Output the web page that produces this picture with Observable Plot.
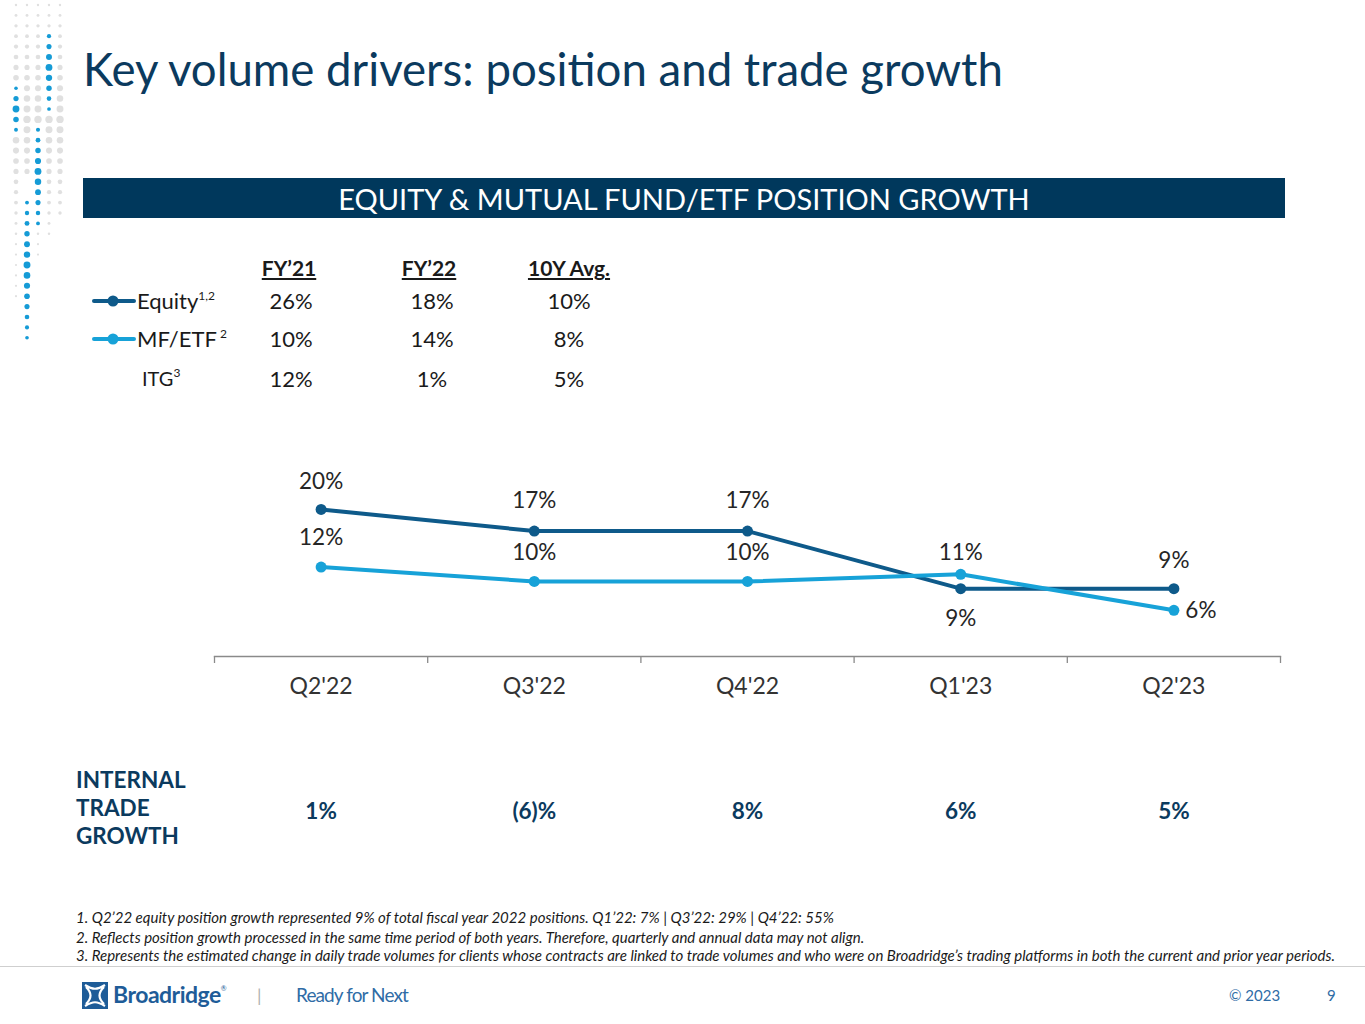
<!DOCTYPE html>
<html>
<head>
<meta charset="utf-8">
<script src="https://cdn.jsdelivr.net/npm/d3@7"></script>
<script src="https://cdn.jsdelivr.net/npm/@observablehq/plot@0.6"></script>
<style>
  html, body { margin: 0; padding: 0; background: #fff; }
  body { width: 1365px; height: 1024px; position: relative; overflow: hidden; font-family: Lato, "Open Sans", sans-serif; }
  .abs { position: absolute; white-space: nowrap; }
  #title { left: 83px; top: 41px; font-size: 45.6px; color: #0B3A5E; }
  #banner { left: 83px; top: 178px; width: 1202px; height: 40px; background: #00385C; color: #fff; font-size: 29px; line-height: 42px; text-align: center; }
  .hdr { font-weight: bold; font-size: 21px; text-decoration: underline; color: #1a1a1a; transform: translateX(-50%); }
  .val { font-size: 22px; color: #1a1a1a; transform: translateX(-50%); }
  .lbl { font-size: 22px; color: #1a1a1a; }
  sup { font-size: 12px; vertical-align: 9px; }
  #itgHead { left: 76px; top: 766px; font-weight: bold; font-size: 22.5px; line-height: 28px; color: #0B3A5E; white-space: normal; }
  .note { left: 76px; font-size: 15px; font-style: italic; color: #1a1a1a; }
  #sep { left: 0; top: 966px; width: 1365px; height: 1px; background: #cfcfcf; }
  #chart { left: 0; top: 440px; }
</style>
</head>
<body>
<svg id="dots" class="abs" style="left:0;top:0" width="75" height="350"></svg>
<div id="title" class="abs">Key volume drivers: position and trade growth</div>
<div id="banner" class="abs">EQUITY &amp; MUTUAL FUND/ETF POSITION GROWTH</div>
<div id="legend"></div>
<div id="chart" class="abs"></div>
<div id="itgHead" class="abs">INTERNAL<br>TRADE<br>GROWTH</div>
<div id="notes"></div>
<div id="sep" class="abs"></div>
<div id="footer"></div>
<script>
// ---- data ----
const quarters = ["Q2'22", "Q3'22", "Q4'22", "Q1'23", "Q2'23"];
const equity = [20, 17, 17, 9, 9];
const mfEtf = [12, 10, 10, 11, 6];
const internalTradeGrowth = ["1%", "(6)%", "8%", "6%", "5%"];
const summaryHeaders = ["FY’21", "FY’22", "10Y Avg."];
const equitySummary = ["26%", "18%", "10%"];
const mfEtfSummary = ["10%", "14%", "8%"];
const itgSummary = ["12%", "1%", "5%"];
const footnotes = [
  "1. Q2’22 equity position growth represented 9% of total fiscal year 2022 positions. Q1’22: 7% | Q3’22: 29% | Q4’22: 55%",
  "2. Reflects position growth processed in the same time period of both years. Therefore, quarterly and annual data may not align.",
  "3. Represents the estimated change in daily trade volumes for clients whose contracts are linked to trade volumes and who were on Broadridge’s trading platforms in both the current and prior year periods."
];

const EQ = "#0E5A8A";
const MF = "#17A2D8";
const NAVY = "#0B3A5E";

// ---- decorative dots ----
(function () {
  const svg = d3.select("#dots");
  const cols = [16, 27, 38, 49, 60];
  const blueRanges = [[88, 132], [193, 342], [120, 228], [27, 112], [-1, -1]];
  cols.forEach((x, c) => {
    for (let y = 5; y <= 342; y += 10.4) {
      const [a, b] = blueRanges[c];
      const blue = y >= a && y <= b;
      const mid = blue ? (a + b) / 2 : 100;
      const r = blue ? 1.7 + 1.8 * Math.max(0, 1 - Math.abs(y - mid) / ((b - a) / 2 + 1)) : 1.1 + 2.6 * Math.max(0, 1 - Math.abs(y - 120) / 120);
      if (!blue && (y > 300 - c * 20 || (c === 1 && y > 180))) continue;
      svg.append("circle").attr("cx", x).attr("cy", y).attr("r", r)
        .attr("fill", blue ? "#159BD6" : "#E0E0E0");
    }
  });
})();

// ---- legend / summary table ----
(function () {
  const lg = document.getElementById("legend");
  const colX = [289, 429, 569];
  const valX = [291, 432, 569];
  let html = "";
  summaryHeaders.forEach((h, i) => { html += `<div class="abs hdr" style="left:${colX[i]}px;top:255px">${h}</div>`; });
  const rows = [
    { name: "Equity", sup: "1,2", vals: equitySummary, color: EQ, top: 287 },
    { name: "MF/ETF", sup: "&nbsp;2", vals: mfEtfSummary, color: MF, top: 325 },
    { name: "ITG", sup: "3", vals: itgSummary, color: null, top: 365 }
  ];
  rows.forEach(r => {
    if (r.color) {
      html += `<svg class="abs" style="left:92px;top:${r.top + 4}px" width="44" height="20"><line x1="2" x2="42" y1="10" y2="10" stroke="${r.color}" stroke-width="4" stroke-linecap="round"/><circle cx="21" cy="10" r="5.5" fill="${r.color}"/></svg>`;
      html += `<div class="abs lbl" style="left:137px;top:${r.top}px">${r.name}<sup>${r.sup}</sup></div>`;
    } else {
      html += `<div class="abs lbl" style="left:142px;top:${r.top}px;font-size:20px">${r.name}<sup>${r.sup}</sup></div>`;
    }
    r.vals.forEach((v, i) => { html += `<div class="abs val" style="left:${valX[i]}px;top:${r.top}px">${v}</div>`; });
  });
  lg.innerHTML = html;
})();

// ---- chart ----
const eqRows = quarters.map((q, i) => ({ i, q, v: equity[i] }));
const mfRows = quarters.map((q, i) => ({ i, q, v: mfEtf[i] }));
const tradeRows = quarters.map((q, i) => ({ i, q, t: internalTradeGrowth[i] }));

// label placement (styling only)
const eqLabelDy = [-28, -30, -30, 30, -28];
const mfLabelDy = [-29, -29, -29, -21, 1];
const mfLabelDx = [0, 0, 0, 0, 27];

const labelMarks = [];
eqRows.forEach((d, k) => labelMarks.push(Plot.text([d], { x: "i", y: "v", text: r => r.v + "%", dy: eqLabelDy[k], fill: "#262626", fontSize: 22.5 })));
mfRows.forEach((d, k) => labelMarks.push(Plot.text([d], { x: "i", y: "v", text: r => r.v + "%", dy: mfLabelDy[k], dx: mfLabelDx[k], fill: "#262626", fontSize: 22.5 })));

const chart = Plot.plot({
  width: 1365,
  height: 420,
  marginLeft: 214,
  marginRight: 85,
  marginTop: 20,
  marginBottom: 204,
  style: { fontFamily: "Lato, 'Open Sans', sans-serif", background: "transparent", overflow: "visible" },
  x: { type: "linear", domain: [-0.5, 4.5] },
  y: { domain: [-0.42, 26.8], axis: null },
  marks: [
    Plot.frame({ anchor: "bottom", stroke: "#8a8a8a", strokeWidth: 1.3 }),
    Plot.axisX(d3.range(quarters.length + 1).map(i => i - 0.5), { tickSize: 7, tickFormat: () => "", label: null, stroke: "#8a8a8a", strokeWidth: 1.3 }),
    Plot.axisX(d3.range(quarters.length), { tickSize: 0, tickPadding: 21, tickFormat: i => quarters[i], label: null, fontSize: 23, fill: "#333" }),
    Plot.line(eqRows, { x: "i", y: "v", stroke: EQ, strokeWidth: 4 }),
    Plot.dot(eqRows, { x: "i", y: "v", r: 5.5, fill: EQ }),
    Plot.line(mfRows, { x: "i", y: "v", stroke: MF, strokeWidth: 4 }),
    Plot.dot(mfRows, { x: "i", y: "v", r: 5.5, fill: MF }),
    ...labelMarks,
    Plot.text(tradeRows, { x: "i", frameAnchor: "bottom", dy: 162, text: "t", fill: NAVY, fontWeight: "bold", fontSize: 22.5 })
  ]
});
document.getElementById("chart").appendChild(chart);

// ---- footnotes ----
(function () {
  const tops = [908, 928, 946];
  document.getElementById("notes").innerHTML = footnotes.map((t, i) => `<div class="abs note" style="top:${tops[i]}px">${t}</div>`).join("");
})();

// ---- footer ----
document.getElementById("footer").innerHTML = `
<svg class="abs" style="left:82px;top:982px" width="26" height="27">
  <rect x="0" y="0" width="26" height="27" fill="#1E5C98"/>
  <path d="M3 3 C 11 8, 15 8, 23 3 M3 24 C 11 19, 15 19, 23 24 M4 5 C 10 11, 10 16, 4 22 M22 5 C 16 11, 16 16, 22 22" stroke="#fff" stroke-width="2.2" fill="none"/>
</svg>
<div class="abs" style="left:113px;top:980px;font-size:23px;font-weight:bold;color:#1E5C98;letter-spacing:-0.5px">Broadridge<span style="font-size:7px;vertical-align:12px;font-weight:normal">®</span></div>
<div class="abs" style="left:257px;top:984px;font-size:18px;color:#b0b0b0">|</div>
<div class="abs" style="left:296px;top:983px;font-size:19px;color:#2F6CA6;letter-spacing:-0.9px">Ready for Next</div>
<div class="abs" style="left:1229px;top:986px;font-size:15px;color:#2F6CA6">© 2023</div>
<div class="abs" style="left:1327px;top:986px;font-size:15px;color:#2F6CA6">9</div>
`;
</script>
</body>
</html>
